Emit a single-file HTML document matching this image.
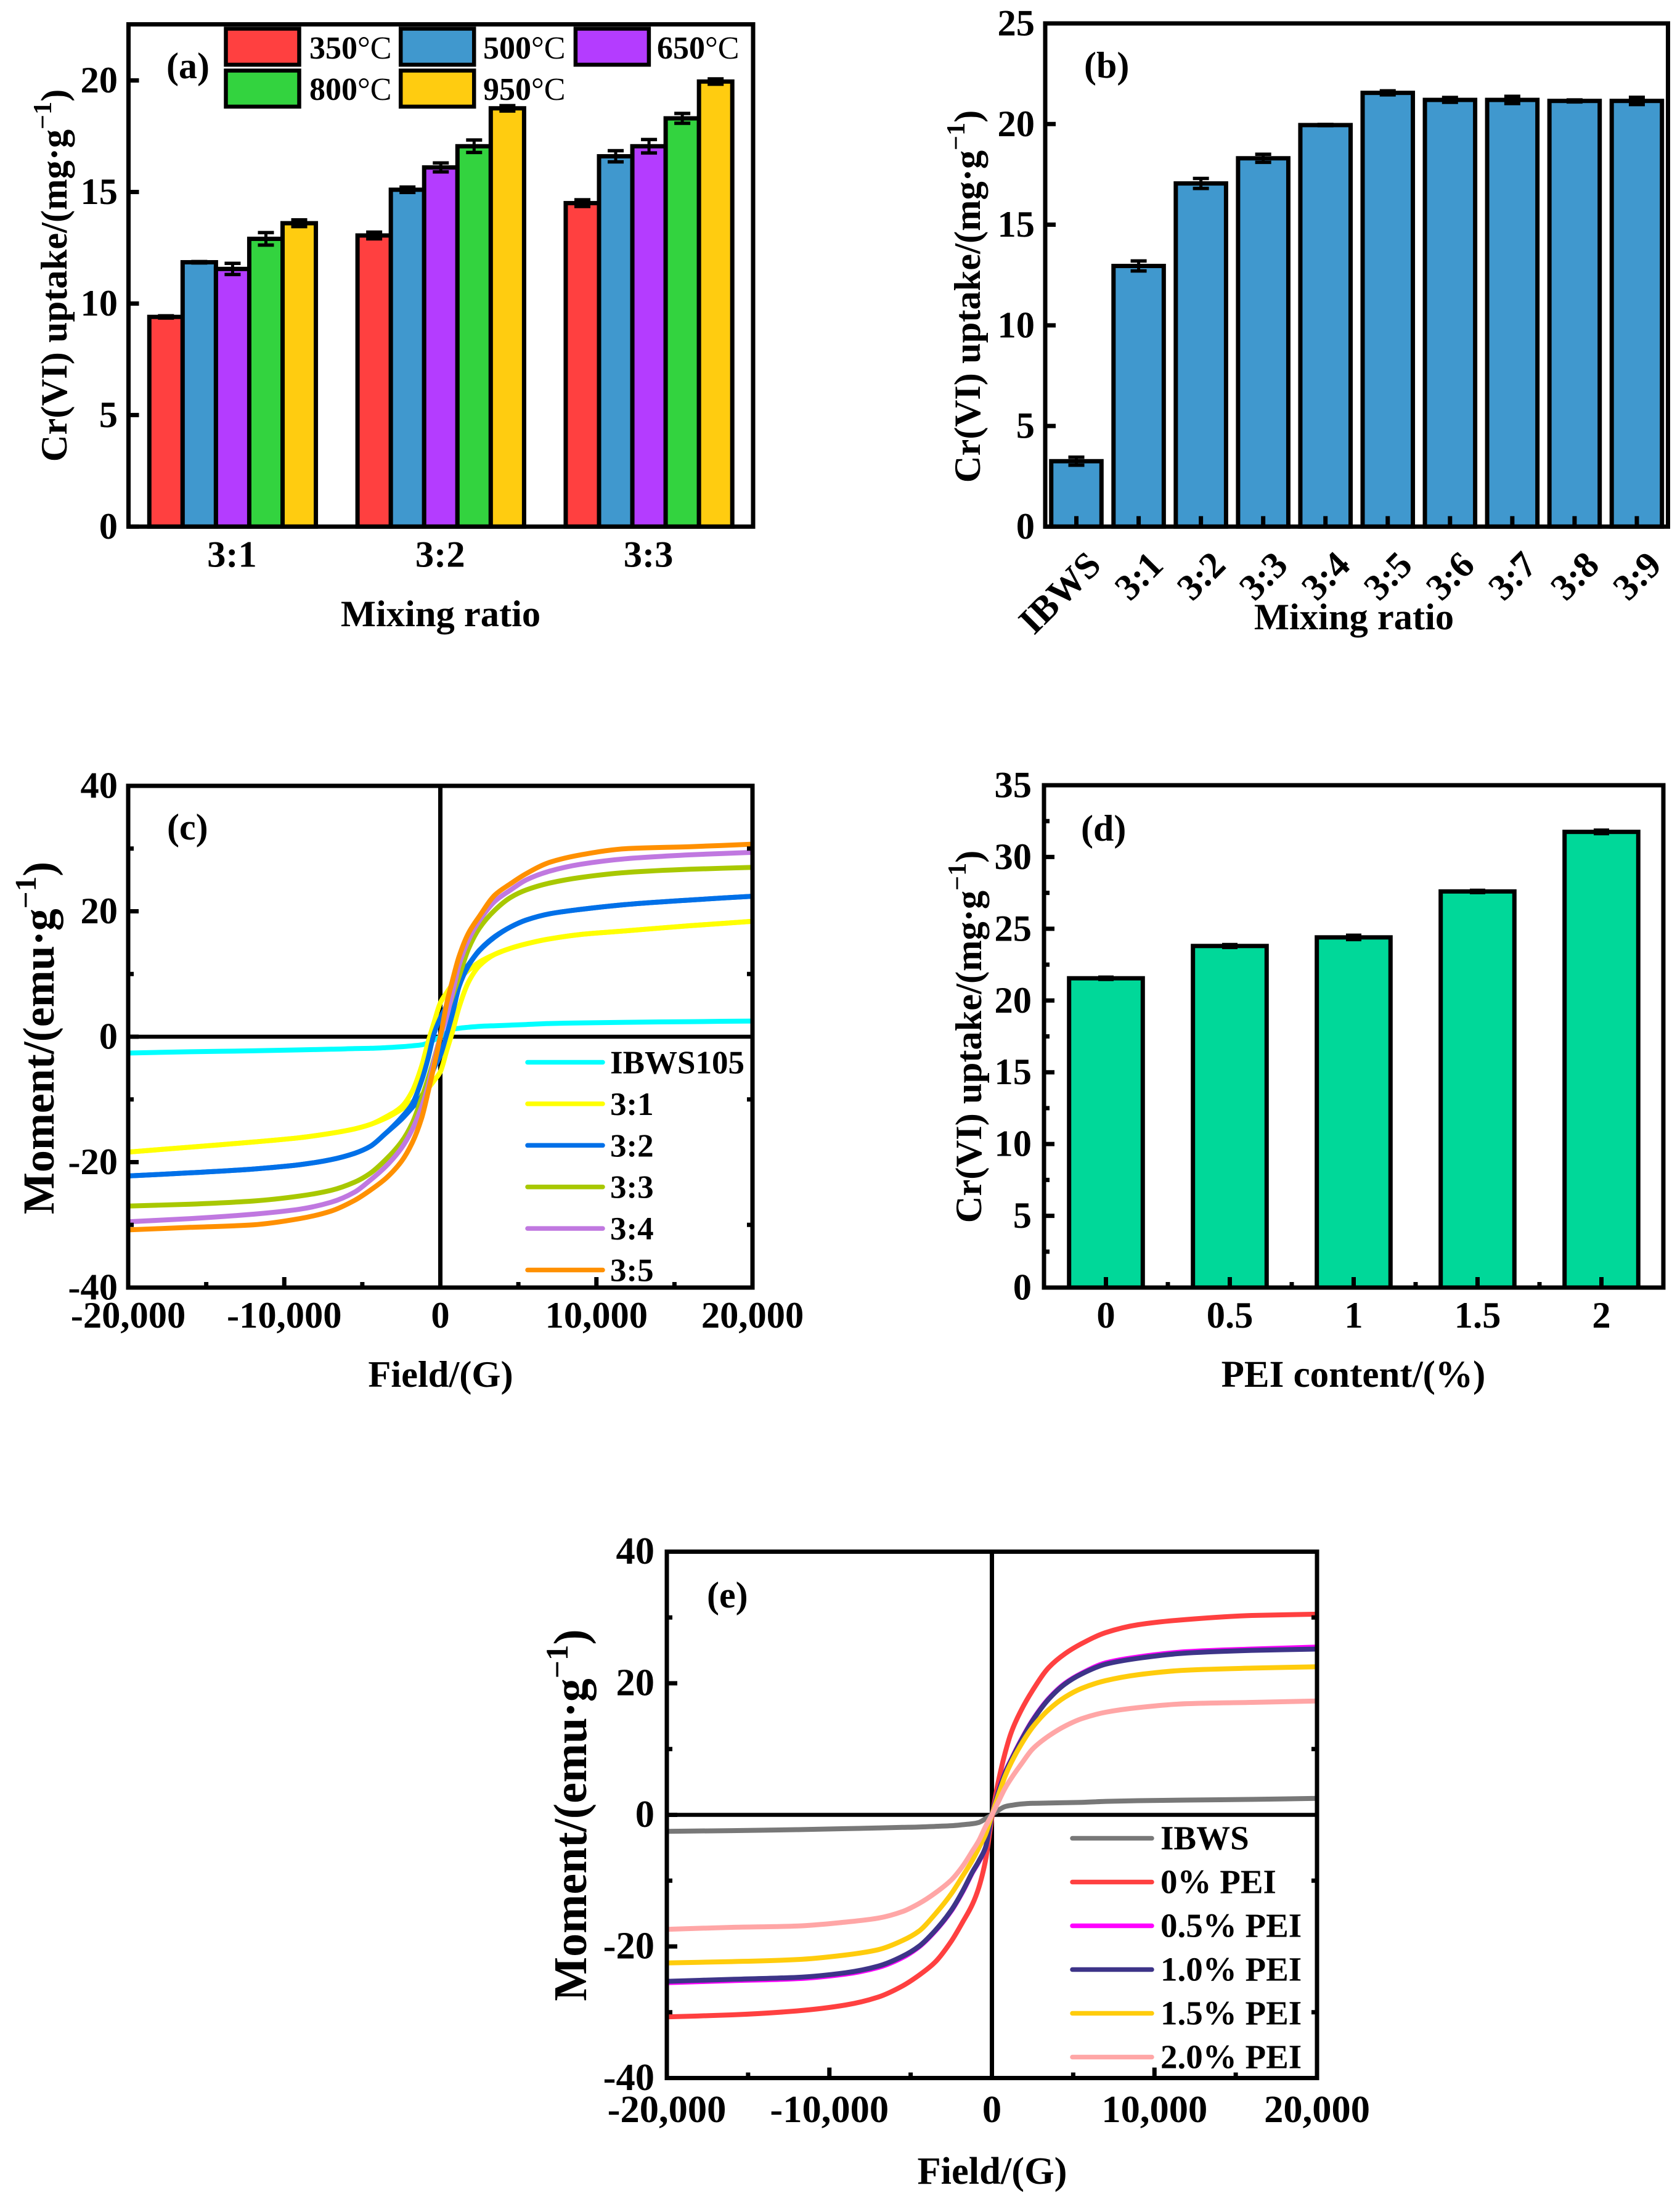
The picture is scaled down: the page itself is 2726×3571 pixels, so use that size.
<!DOCTYPE html>
<html lang="en">
<head>
<meta charset="utf-8">
<title>Cr(VI) uptake and magnetisation figure</title>
<style>
html,body{margin:0;padding:0;background:#fff;}
svg{display:block;}
text{font-family:"Liberation Serif",serif;font-weight:bold;fill:#000;}
</style>
</head>
<body>
<svg id="figure" xmlns="http://www.w3.org/2000/svg" width="2726" height="3571" viewBox="0 0 2726 3571">
  <rect x="0" y="0" width="2726" height="3571" fill="#fff"/>
  <g id="panel-a"></g>
  <g id="panel-b"></g>
  <g id="panel-c"></g>
  <g id="panel-d"></g>
  <g id="panel-e"></g>

  <g>
    <text transform="translate(108,447) rotate(-90)" text-anchor="middle" font-size="60.5">Cr(VI) uptake/(mg·g<tspan dy="-25" font-size="42">−1</tspan><tspan dy="25">)</tspan></text>
    <text x="715" y="1016" text-anchor="middle" font-size="60.5">Mixing ratio</text>
    <text x="270" y="127" font-size="60">(a)</text>

    <text transform="translate(1590,481) rotate(-90)" text-anchor="middle" font-size="60.5">Cr(VI) uptake/(mg·g<tspan dy="-25" font-size="42">−1</tspan><tspan dy="25">)</tspan></text>
    <text x="2197" y="1021" text-anchor="middle" font-size="60.5">Mixing ratio</text>
    <text x="1759" y="126" font-size="60">(b)</text>

    <text transform="translate(87,1684) rotate(-90)" text-anchor="middle" font-size="72">Moment/(emu·g<tspan dy="-29" font-size="49">−1</tspan><tspan dy="29">)</tspan></text>
    <text x="715" y="2250" text-anchor="middle" font-size="60.5">Field/(G)</text>
    <text x="271" y="1362" font-size="60">(c)</text>

    <text transform="translate(1592,1682) rotate(-90)" text-anchor="middle" font-size="60.5">Cr(VI) uptake/(mg·g<tspan dy="-25" font-size="42">−1</tspan><tspan dy="25">)</tspan></text>
    <text x="2196" y="2250" text-anchor="middle" font-size="61">PEI content/(%)</text>
    <text x="1754" y="1364" font-size="60">(d)</text>

    <text transform="translate(951,2945) rotate(-90)" text-anchor="middle" font-size="76">Moment/(emu·g<tspan dy="-30" font-size="51">−1</tspan><tspan dy="30">)</tspan></text>
    <text x="1610" y="3543" text-anchor="middle" font-size="62.5">Field/(G)</text>
    <text x="1147" y="2608" font-size="60">(e)</text>
  </g>
</svg>

<script>
/* ---------- Panel (a) data ---------- */
const aCategories = ['3:1', '3:2', '3:3'];
const aSeriesNames = ['350', '500', '650', '800', '950'];
const a350 = [9.4, 13.05, 14.5];
const a500 = [11.85, 15.1, 16.6];
const a650 = [11.55, 16.1, 17.05];
const a800 = [12.9, 17.05, 18.3];
const a950 = [13.6, 18.75, 19.95];
const a350Err = [0.05, 0.15, 0.15];
const a500Err = [0.03, 0.12, 0.25];
const a650Err = [0.25, 0.2, 0.3];
const a800Err = [0.28, 0.28, 0.22];
const a950Err = [0.15, 0.12, 0.12];
const aTicks = [0, 5, 10, 15, 20];

/* ---------- Panel (b) data ---------- */
const bCategories = ['IBWS', '3:1', '3:2', '3:3', '3:4', '3:5', '3:6', '3:7', '3:8', '3:9'];
const bValues = [3.25, 12.95, 17.05, 18.3, 19.95, 21.55, 21.2, 21.2, 21.15, 21.15];
const bErrors = [0.2, 0.25, 0.25, 0.2, 0.03, 0.1, 0.12, 0.18, 0.05, 0.18];
const bTicks = [0, 5, 10, 15, 20, 25];

/* ---------- Panel (d) data ---------- */
const dCategories = ['0', '0.5', '1', '1.5', '2'];
const dValues = [21.55, 23.8, 24.4, 27.6, 31.75];
const dErrors = [0.08, 0.1, 0.15, 0.08, 0.12];
const dTicks = [0, 5, 10, 15, 20, 25, 30, 35];
const dMinorTicks = [2.5, 7.5, 12.5, 17.5, 22.5, 27.5, 32.5];

/* ---------- Magnetisation panels shared data ---------- */
const fieldValues = [-20000, -16000, -12000, -9000, -7000, -5500, -4500, -3500, -2500, -1800, -1200, -800, -400, 0, 400, 800, 1200, 1800, 2500, 3500, 4500, 5500, 7000, 9000, 12000, 16000, 20000];
const fieldTicks = [-20000, -10000, 0, 10000, 20000];
const fieldTickLabels = ['-20,000', '-10,000', '0', '10,000', '20,000'];
const fieldMinorTicks = [-15000, -5000, 5000, 15000];
const momentTicks = [-40, -20, 0, 20, 40];
const momentMinorTicks = [-30, -10, 10, 30];

/* ---------- Panel (c) data ---------- */
const cIbws105 = [-2.6, -2.4, -2.25, -2.1, -2.0, -1.9, -1.85, -1.75, -1.6, -1.45, -1.3, -1.0, -0.5, 0, 0.6, 1.2, 1.35, 1.5, 1.65, 1.75, 1.85, 1.95, 2.1, 2.2, 2.3, 2.4, 2.5];
const c31Descending = [-18.4, -17.6, -16.8, -16.1, -15.4, -14.7, -14.0, -12.8, -11.2, -8.7, -4.7, -1.0, 2.3, 5.4, 7.0, 8.4, 9.3, 10.6, 11.9, 13.15, 14.1, 14.8, 15.6, 16.3, 16.9, 17.7, 18.4];
const c31Ascending = [-18.4, -17.6, -16.8, -16.1, -15.4, -14.7, -14.0, -13.0, -11.6, -10.4, -9.3, -8.3, -7.0, -5.6, -2.3, 1.0, 4.7, 8.7, 11.3, 13.15, 14.1, 14.8, 15.6, 16.3, 16.9, 17.7, 18.4];
const c32Descending = [-22.2, -21.7, -21.1, -20.4, -19.6, -18.6, -17.5, -15.4, -12.9, -10.7, -7.0, -3.6, 0.5, 3.0, 5.0, 7.5, 9.5, 11.5, 13.8, 16.0, 17.5, 18.6, 19.6, 20.3, 21.1, 21.8, 22.4];
const c32Ascending = [-22.2, -21.7, -21.1, -20.4, -19.6, -18.6, -17.5, -15.4, -13.2, -11.3, -9.5, -7.5, -5.0, -3.0, 0.3, 3.9, 8.0, 11.3, 13.7, 15.9, 17.5, 18.6, 19.6, 20.3, 21.1, 21.8, 22.4];
const c33 = [-27, -26.7, -26.2, -25.4, -24.5, -23.2, -21.8, -19.6, -16.8, -13.8, -9.8, -6.8, -3.5, 0, 3.5, 6.6, 9.6, 14, 17.3, 20.2, 22.2, 23.4, 24.5, 25.4, 26.2, 26.7, 27];
const c34 = [-29.5, -29, -28.3, -27.5, -26.4, -24.8, -22.9, -20.7, -17.8, -14.8, -11.2, -8, -3.8, 0, 3.2, 7.2, 11.4, 15.4, 18.5, 21.6, 23.4, 25, 26.4, 27.5, 28.4, 29, 29.4];
const c35 = [-30.8, -30.4, -30, -29, -27.8, -26.1, -24.5, -22.6, -19.9, -16.9, -13, -9, -4.6, 0, 5.2, 9.2, 12.8, 16.5, 19.2, 22.6, 24.4, 26, 27.8, 29, 30, 30.3, 30.7];
const cLegendLabels = ['IBWS105', '3:1', '3:2', '3:3', '3:4', '3:5'];

/* ---------- Panel (e) data ---------- */
const eIbws = [-2.5, -2.4, -2.25, -2.1, -2, -1.9, -1.85, -1.75, -1.65, -1.5, -1.35, -1.15, -0.6, 0, 0.7, 1.25, 1.45, 1.65, 1.75, 1.8, 1.85, 1.9, 2.05, 2.15, 2.25, 2.35, 2.5];
const ePei0 = [-30.7, -30.4, -29.8, -28.9, -27.7, -26, -24.4, -22.4, -19.2, -16.3, -13.6, -11, -7, -0.4, 5.1, 9.3, 12.6, 15.9, 18.9, 22.4, 24.5, 26, 27.7, 28.9, 29.7, 30.3, 30.5];
const ePei05 = [-25.5, -25.2, -24.9, -24.2, -23.2, -21.7, -20.1, -17.7, -14.6, -11.7, -8.8, -7.1, -5, 0, 3.6, 6.4, 8.5, 11.4, 14.4, 17.7, 20, 21.5, 23.1, 24, 24.8, 25.2, 25.5];
const ePei10 = [-25.3, -25, -24.7, -24, -23, -21.5, -20, -17.6, -14.5, -11.6, -8.7, -7, -5, 0, 3.5, 6.3, 8.4, 11.3, 14.3, 17.6, 19.9, 21.4, 22.9, 23.8, 24.6, 25, 25.2];
const ePei15 = [-22.5, -22.3, -22, -21.3, -20.5, -19.1, -17.7, -15.1, -12, -9.3, -6.9, -5, -3, 0, 3, 5.8, 8, 10.7, 13.3, 16, 17.9, 19.2, 20.4, 21.3, 22, 22.3, 22.5];
const ePei20 = [-17.4, -17.1, -16.9, -16.3, -15.7, -14.7, -13.5, -11.9, -9.9, -7.8, -5.5, -3.9, -1.8, 0, 2, 4, 5.6, 7.7, 10, 12, 13.5, 14.6, 15.6, 16.3, 16.9, 17.1, 17.3];
const eLegendLabels = ['IBWS', '0% PEI', '0.5% PEI', '1.0% PEI', '1.5% PEI', '2.0% PEI'];

/* ---------- Helpers ---------- */
const NS = 'http://www.w3.org/2000/svg';
function make(parent, tag, name, attrs, content) {
  const el = document.createElementNS(NS, tag);
  
  
  for (const key in attrs) { el.setAttribute(key, attrs[key]); }
  if (content !== undefined) { el.textContent = content; }
  parent.appendChild(el);
  return el;
}
function linear(d0, d1, r0, r1) {
  return function (v) { return r0 + (v - d0) / (d1 - d0) * (r1 - r0); };
}
const AXIS_W = 7;
function frame(g, prefix, box) {
  make(g, 'rect', prefix + '-axis-frame', {x: box.L, y: box.T, width: box.R - box.L, height: box.B - box.T, fill: 'none', stroke: '#000', 'stroke-width': AXIS_W});
}
function tickLine(g, name, x1, y1, x2, y2) {
  make(g, 'line', name, {x1: x1, y1: y1, x2: x2, y2: y2, stroke: '#000', 'stroke-width': 7});
}
function yAxis(g, prefix, box, scale, ticks, minor, labelX, size) {
  ticks.forEach(function (t) {
    tickLine(g, prefix + '-y-tick-' + t, box.L, scale(t), box.L + 17, scale(t));
    make(g, 'text', prefix + '-y-tick-label-' + t, {x: labelX, y: scale(t) + 19.5, 'text-anchor': 'end', 'font-size': size}, String(t));
  });
  minor.forEach(function (t) {
    tickLine(g, prefix + '-y-minor-tick-' + t, box.L, scale(t), box.L + 9, scale(t));
  });
}
function errorBar(g, name, cx, scale, value, err, capHalf) {
  make(g, 'line', name + '-stem', {x1: cx, x2: cx, y1: scale(value - err), y2: scale(value + err), stroke: '#000', 'stroke-width': 5});
  make(g, 'line', name + '-cap-low', {x1: cx - capHalf, x2: cx + capHalf, y1: scale(value - err), y2: scale(value - err), stroke: '#000', 'stroke-width': 5.5});
  make(g, 'line', name + '-cap-high', {x1: cx - capHalf, x2: cx + capHalf, y1: scale(value + err), y2: scale(value + err), stroke: '#000', 'stroke-width': 5.5});
}
function bar(g, name, cx, width, scale, value, color) {
  make(g, 'rect', name, {x: cx - width / 2, y: scale(value), width: width, height: scale(0) - scale(value), fill: color, stroke: '#000', 'stroke-width': 7});
}
/* Monotone cubic path through the data points so curves stay smooth without overshoot. */
function curvePath(xs, ys, sx, sy) {
  const px = xs.map(sx), py = ys.map(sy), n = px.length;
  const h = [], m = [], t = [];
  for (let i = 0; i < n - 1; i++) {
    h.push(px[i + 1] - px[i]);
    m.push((py[i + 1] - py[i]) / h[i]);
  }
  t[0] = m[0];
  t[n - 1] = m[n - 2];
  for (let i = 1; i < n - 1; i++) {
    if (m[i - 1] * m[i] <= 0) { t[i] = 0; continue; }
    const w1 = 2 * h[i] + h[i - 1], w2 = h[i] + 2 * h[i - 1];
    t[i] = (w1 + w2) / (w1 / m[i - 1] + w2 / m[i]);
  }
  let d = 'M' + px[0].toFixed(1) + ' ' + py[0].toFixed(1);
  for (let i = 0; i < n - 1; i++) {
    const c = h[i] / 3;
    d += ' C' + (px[i] + c).toFixed(1) + ' ' + (py[i] + t[i] * c).toFixed(1) + ' ' +
         (px[i + 1] - c).toFixed(1) + ' ' + (py[i + 1] - t[i + 1] * c).toFixed(1) + ' ' +
         px[i + 1].toFixed(1) + ' ' + py[i + 1].toFixed(1);
  }
  return d;
}

/* ---------- Panel (a) ---------- */
(function () {
  const g = document.getElementById('panel-a');
  const box = {L: 208.5, R: 1222, T: 39.5, B: 854.4};
  const sx = linear(0.5, aCategories.length + 0.5, box.L, box.R);
  const sy = linear(0, 22.5, box.B, 40);
  const colors = ['#FF4040', '#4098CE', '#B43CFF', '#33D33F', '#FFCC10'];
  const series = [a350, a500, a650, a800, a950];
  const errors = [a350Err, a500Err, a650Err, a800Err, a950Err];
  const w = 0.16 * (sx(2) - sx(1));
  series.forEach(function (vals, s) {
    vals.forEach(function (v, c) {
      const cx = sx(c + 1) + (s - 2) * w;
      bar(g, 'bar-' + aSeriesNames[s] + '-' + aCategories[c], cx, w, sy, v, colors[s]);
      errorBar(g, 'error-bar-' + aSeriesNames[s] + '-' + aCategories[c], cx, sy, v, errors[s][c], 13);
    });
  });
  frame(g, 'panel-a', box);
  yAxis(g, 'panel-a', box, sy, aTicks, [], 191, 60.5);
  aCategories.forEach(function (c, i) {
    make(g, 'text', 'panel-a-x-tick-label-' + c, {x: sx(i + 1) - 1, y: 919.5, 'text-anchor': 'middle', 'font-size': 60.5}, c);
  });
  aSeriesNames.forEach(function (n, i) {
    const col = i % 3, row = Math.floor(i / 3);
    const entry = make(g, 'g', 'legend-entry-' + n, {});
    make(entry, 'rect', 'legend-swatch-' + n, {x: 366.5 + col * 283.7, y: 46.5 + row * 68, width: 119, height: 58.5, fill: colors[i], stroke: '#000', 'stroke-width': 6.5});
    const t = make(entry, 'text', 'legend-label-' + n, {x: 502 + col * 282, y: 95 + row * 67, 'font-size': 52}, n);
    const unit = document.createElementNS(NS, 'tspan');
    unit.setAttribute('style', 'font-weight:normal');
    unit.textContent = '°C';
    t.appendChild(unit);
  });
})();

/* ---------- Panel (b) ---------- */
(function () {
  const g = document.getElementById('panel-b');
  const box = {L: 1696, R: 2706.5, T: 38, B: 854.4};
  const sx = linear(0.5, bCategories.length + 0.5, box.L, box.R);
  const sy = linear(0, 25, box.B, box.T);
  const w = 0.807 * (sx(2) - sx(1));
  bValues.forEach(function (v, i) {
    const cx = sx(i + 1);
    bar(g, 'bar-' + bCategories[i], cx, w, sy, v, '#4098CE');
    errorBar(g, 'error-bar-' + bCategories[i], cx, sy, v, bErrors[i], 13);
  });
  frame(g, 'panel-b', box);
  yAxis(g, 'panel-b', box, sy, bTicks, [], 1679, 60.5);
  bCategories.forEach(function (c, i) {
    const cx = sx(i + 1);
    tickLine(g, 'panel-b-x-tick-' + c, cx, box.B, cx, box.B - 17);
    make(g, 'text', 'panel-b-x-tick-label-' + c, {transform: 'translate(' + (cx + 43) + ',920) rotate(-45)', 'text-anchor': 'end', 'font-size': 60.5}, c);
  });
})();

/* ---------- Panel (d) ---------- */
(function () {
  const g = document.getElementById('panel-d');
  const box = {L: 1694, R: 2699, T: 1274, B: 2089};
  const sx = linear(0.5, dCategories.length + 0.5, box.L, box.R);
  const sy = linear(0, 35, box.B, box.T);
  const w = 0.595 * (sx(2) - sx(1));
  dValues.forEach(function (v, i) {
    const cx = sx(i + 1);
    bar(g, 'bar-' + dCategories[i], cx, w, sy, v, '#00D899');
    errorBar(g, 'error-bar-' + dCategories[i], cx, sy, v, dErrors[i], 12.5);
  });
  frame(g, 'panel-d', box);
  yAxis(g, 'panel-d', box, sy, dTicks, dMinorTicks, 1674, 60.5);
  dCategories.forEach(function (c, i) {
    const cx = sx(i + 1);
    tickLine(g, 'panel-d-x-tick-' + c, cx, box.B, cx, box.B - 17);
    make(g, 'text', 'panel-d-x-tick-label-' + c, {x: cx, y: 2154, 'text-anchor': 'middle', 'font-size': 60.5}, c);
    if (i < dCategories.length - 1) {
      const mx = sx(i + 1.5);
      tickLine(g, 'panel-d-x-minor-tick-' + i, mx, box.B, mx, box.B - 9);
    }
  });
})();

/* ---------- Magnetisation panel builder ---------- */
function magnetPanel(id, prefix, box, curves, legend, opts) {
  const g = document.getElementById(id);
  const sx = linear(-20000, 20000, box.L, box.R);
  const sy = linear(-40, 40, box.B, box.T);
  make(g, 'line', prefix + '-zero-x-line', {x1: sx(0), x2: sx(0), y1: box.T, y2: box.B, stroke: '#000', 'stroke-width': 7});
  make(g, 'line', prefix + '-zero-y-line', {x1: box.L, x2: box.R, y1: sy(0), y2: sy(0), stroke: '#000', 'stroke-width': 6.5});
  curves.forEach(function (c) {
    make(g, 'path', 'curve-' + c.name, {d: curvePath(fieldValues, c.values, sx, sy), fill: 'none', stroke: c.color, 'stroke-width': 8, 'stroke-linejoin': 'round'});
  });
  frame(g, prefix, box);
  yAxis(g, prefix, box, sy, momentTicks, momentMinorTicks, opts.yLabelX, opts.size);
  momentMinorTicks.forEach(function (t) {
    tickLine(g, prefix + '-y-right-minor-tick-' + t, box.R, sy(t), box.R - 9, sy(t));
  });
  fieldTicks.forEach(function (t, i) {
    tickLine(g, prefix + '-x-tick-' + t, sx(t), box.B, sx(t), box.B - 17);
    make(g, 'text', prefix + '-x-tick-label-' + t, {x: sx(t), y: opts.xLabelY, 'text-anchor': 'middle', 'font-size': opts.size}, fieldTickLabels[i]);
  });
  fieldMinorTicks.forEach(function (t) {
    tickLine(g, prefix + '-x-minor-tick-' + t, sx(t), box.B, sx(t), box.B - 9);
  });
  legend.labels.forEach(function (label, i) {
    const entry = make(g, 'g', prefix + '-legend-entry-' + label.replace(/[^0-9A-Za-z]+/g, '-'), {});
    const y = legend.y0 + i * legend.dy;
    make(entry, 'line', prefix + '-legend-line-' + i, {x1: legend.x1, x2: legend.x2, y1: y, y2: y, stroke: legend.colors[i], 'stroke-width': 7.5, 'stroke-linecap': 'round'});
    make(entry, 'text', prefix + '-legend-label-' + i, {x: legend.tx, y: y + 18, 'font-size': legend.size}, label);
  });
}

magnetPanel('panel-c', 'panel-c', {L: 208, R: 1221, T: 1275, B: 2089}, [
  {name: 'ibws105', values: cIbws105, color: '#00FFFF'},
  {name: '3-1-descending', values: c31Descending, color: '#FFFF00'},
  {name: '3-1-ascending', values: c31Ascending, color: '#FFFF00'},
  {name: '3-2-descending', values: c32Descending, color: '#0070E8'},
  {name: '3-2-ascending', values: c32Ascending, color: '#0070E8'},
  {name: '3-3', values: c33, color: '#A8C800'},
  {name: '3-4', values: c34, color: '#C078E0'},
  {name: '3-5', values: c35, color: '#FF9000'}
], {
  labels: cLegendLabels,
  colors: ['#00FFFF', '#FFFF00', '#0070E8', '#A8C800', '#C078E0', '#FF9000'],
  x1: 856, x2: 978, tx: 990, y0: 1723.5, dy: 67.4, size: 53
}, {yLabelX: 191, xLabelY: 2154, size: 60.5});

magnetPanel('panel-e', 'panel-e', {L: 1082, R: 2137, T: 2517.5, B: 3371.5}, [
  {name: 'ibws', values: eIbws, color: '#787878'},
  {name: '0-pei', values: ePei0, color: '#FF4040'},
  {name: '0-5-pei', values: ePei05, color: '#FF00FF'},
  {name: '1-0-pei', values: ePei10, color: '#3D3488'},
  {name: '1-5-pei', values: ePei15, color: '#FFCC0C'},
  {name: '2-0-pei', values: ePei20, color: '#FFA6A6'}
], {
  labels: eLegendLabels,
  colors: ['#787878', '#FF4040', '#FF00FF', '#3D3488', '#FFCC0C', '#FFA6A6'],
  x1: 1740, x2: 1869, tx: 1883, y0: 2982.5, dy: 71, size: 55
}, {yLabelX: 1062, xLabelY: 3443, size: 62.5});
</script>
</body>
</html>
